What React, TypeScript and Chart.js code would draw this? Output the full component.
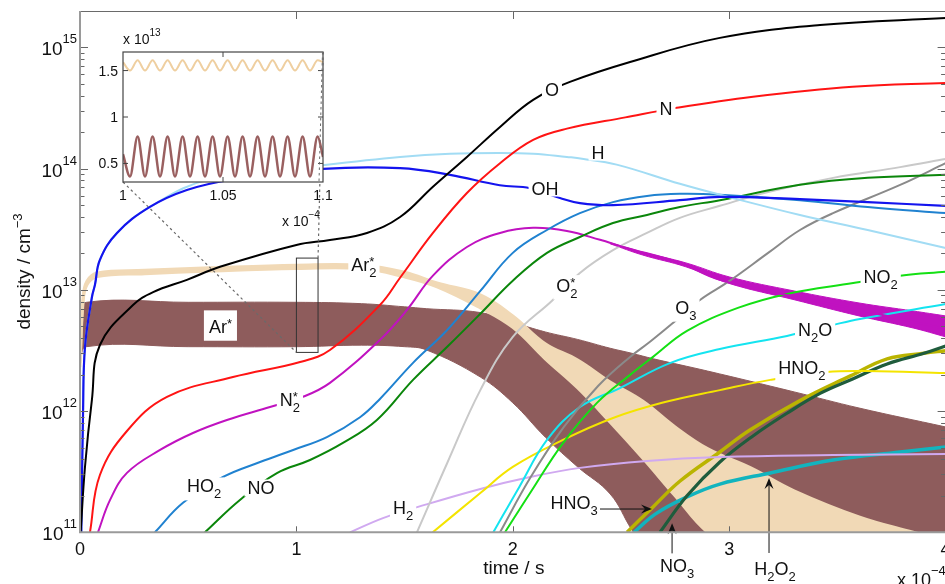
import React, { useEffect, useRef } from "react";
import { Chart, registerables } from "chart.js";

Chart.register(...registerables);

type P = [number, number];

// ---------- axes ----------
const TIME_TICKS = [0, 1, 2, 3, 4];
const DENSITY_DECADES = [1e11, 1e12, 1e13, 1e14, 1e15];
const TIME_RANGE = [0, 4];
const DENSITY_RANGE = [1e11, 2e15];

// ---------- species (time in 1e-4 s, density in cm^-3) ----------
const O_D: P[] = [[0.003, 1e11], [0.023, 3.46e11], [0.055, 1.24e12], [0.092, 3.51e12], [0.245, 7.5e12], [0.338, 9.6e12], [0.494, 1.21e13], [0.647, 1.55e13], [1.0, 2.35e13], [1.155, 2.58e13], [1.326, 2.95e13], [1.479, 3.99e13], [1.631, 7.1e13], [1.788, 1.25e14], [1.941, 2.21e14], [2.094, 3.7e14], [2.264, 5.2e14], [2.542, 7.6e14], [2.957, 1.2e15], [3.42, 1.53e15], [4.0, 1.75e15]];
const N_D: P[] = [[0.046, 1e11], [0.092, 2.97e11], [0.217, 6.85e11], [0.402, 1.31e12], [0.707, 1.91e12], [1.017, 2.54e12], [1.155, 3.19e12], [1.386, 7.5e12], [1.479, 1.26e13], [1.631, 2.95e13], [1.788, 6.3e13], [1.941, 1.11e14], [2.094, 1.73e14], [2.25, 2.14e14], [2.52, 2.65e14], [2.75, 3.16e14], [3.11, 3.92e14], [3.57, 4.74e14], [4.0, 5.1e14]];
const OH_D: P[] = [[0.006, 1e11], [0.014, 9.7e11], [0.023, 3.38e12], [0.055, 8.7e12], [0.069, 1.1e13], [0.092, 1.77e13], [0.171, 2.95e13], [0.323, 4.84e13], [0.494, 6.67e13], [0.693, 8.07e13], [1.123, 9.95e13], [1.479, 1.01e14], [1.71, 8.9e13], [1.94, 7.3e13], [2.08, 6.9e13], [2.218, 5.73e13], [2.31, 5.2e13], [2.463, 5.0e13], [2.772, 5.5e13], [2.957, 5.85e13], [3.327, 5.6e13], [3.64, 5.3e13], [4.0, 4.93e13]];
const H_D: P[] = [[0.006, 1e11], [0.014, 9.7e11], [0.023, 3.38e12], [0.055, 8.7e12], [0.069, 1.1e13], [0.092, 1.77e13], [0.171, 2.95e13], [0.323, 4.84e13], [0.6, 8.2e13], [1.123, 1.07e14], [1.479, 1.25e14], [1.71, 1.33e14], [1.94, 1.35e14], [2.094, 1.33e14], [2.25, 1.25e14], [2.32, 1.21e14], [2.48, 1.08e14], [2.772, 7.5e13], [2.957, 6.1e13], [3.327, 4.15e13], [3.64, 3.12e13], [4.0, 2.22e13]];
const HO2_D: P[] = [[0.346, 1e11], [0.476, 1.75e11], [0.661, 2.86e11], [0.832, 3.8e11], [0.985, 4.78e11], [1.141, 6.1e11], [1.294, 8.9e11], [1.386, 1.26e12], [1.539, 2.5e12], [1.697, 4.67e12], [1.85, 9.8e12], [2.0, 2.02e13], [2.158, 3.12e13], [2.31, 4.3e13], [2.463, 5.3e13], [2.62, 5.96e13], [2.772, 6.2e13], [2.957, 6.1e13], [3.327, 5.5e13], [3.64, 4.83e13], [4.0, 4.3e13]];
const NO_D: P[] = [[0.577, 1e11], [0.739, 1.85e11], [0.91, 3.08e11], [1.063, 3.95e11], [1.215, 5.46e11], [1.372, 8.45e11], [1.539, 1.81e12], [1.697, 3.39e12], [1.85, 6.35e12], [2.0, 1.19e13], [2.158, 2.02e13], [2.31, 2.73e13], [2.463, 3.56e13], [2.62, 4.15e13], [2.772, 4.83e13], [2.957, 5.5e13], [3.327, 7.36e13], [3.64, 8.4e13], [4.0, 8.9e13]];
const N2S_D: P[] = [[0.083, 1e11], [0.139, 1.85e11], [0.217, 3.09e11], [0.37, 4.78e11], [0.522, 6.6e11], [0.679, 8.45e11], [0.878, 1.08e12], [1.03, 1.31e12], [1.155, 1.71e12], [1.386, 3.87e12], [1.511, 6.84e12], [1.631, 1.31e13], [1.788, 2.26e13], [1.941, 2.95e13], [2.094, 3.25e13], [2.25, 3.06e13], [2.403, 2.59e13], [2.51, 2.26e13], [2.772, 1.67e13], [2.957, 1.21e13], [3.327, 8.6e12], [3.64, 6.6e12], [4.0, 4.76e12]];
const O2S_D: P[] = [[1.557, 1e11], [1.697, 3.73e11], [1.85, 1.49e12], [2.0, 4.09e12], [2.185, 8.26e12], [2.31, 1.38e13], [2.463, 2.13e13], [2.62, 2.95e13], [2.772, 3.93e13], [2.957, 4.94e13], [3.18, 6.43e13], [3.48, 8.4e13], [3.79, 1.03e14], [4.0, 1.2e14]];
const O3_D: P[] = [[1.941, 1e11], [2.08, 2.8e11], [2.236, 7.4e11], [2.394, 1.61e12], [2.542, 2.8e12], [2.634, 3.73e12], [2.74, 5.33e12], [2.865, 8.26e12], [3.0, 1.18e13], [3.18, 2.02e13], [3.327, 3.12e13], [3.48, 4.3e13], [3.79, 7.35e13], [4.0, 1.11e14]];
const NO2_D: P[] = [[1.964, 1e11], [2.08, 2.11e11], [2.232, 5.45e11], [2.389, 1.17e12], [2.542, 1.99e12], [2.648, 2.8e12], [2.805, 4.59e12], [3.04, 7.1e12], [3.267, 9.26e12], [3.573, 1.14e13], [3.79, 1.31e13], [4.0, 1.41e13]];
const N2O_D: P[] = [[1.91, 1e11], [2.03, 2.37e11], [2.158, 5.78e11], [2.31, 1.08e12], [2.495, 1.55e12], [2.726, 2.49e12], [2.957, 3.25e12], [3.267, 4.17e12], [3.48, 5.14e12], [3.604, 5.76e12], [4.0, 7.65e12]];
const HNO2_D: P[] = [[1.63, 1e11], [1.85, 2.11e11], [2.0, 3.46e11], [2.232, 5.78e11], [2.463, 8.77e11], [2.69, 1.17e12], [2.957, 1.49e12], [3.19, 1.81e12], [3.45, 2.1e12], [3.64, 2.14e12], [4.0, 2.06e12]];
const H2_D: P[] = [[1.248, 1e11], [1.4, 1.31e11], [1.562, 1.62e11], [1.85, 2.28e11], [2.08, 2.86e11], [2.31, 3.4e11], [2.62, 3.88e11], [2.957, 4.18e11], [3.48, 4.34e11], [4.0, 4.43e11]];
const HNO3_D: P[] = [[2.528, 1e11], [2.648, 1.62e11], [2.773, 2.65e11], [2.957, 4.6e11], [3.096, 6.98e11], [3.327, 1.22e12], [3.56, 1.95e12], [3.73, 2.7e12], [3.9, 3.0e12], [4.0, 3.15e12]];
const NO3_D: P[] = [[2.68, 1e11], [2.805, 2.0e11], [2.957, 3.8e11], [3.11, 6.24e11], [3.267, 9.6e11], [3.42, 1.4e12], [3.573, 1.85e12], [3.73, 2.45e12], [3.9, 3.0e12], [4.0, 3.45e12]];
const H2O2_D: P[] = [[2.56, 1e11], [2.66, 1.42e11], [2.805, 1.96e11], [2.957, 2.5e11], [3.19, 3.09e11], [3.48, 3.95e11], [3.79, 4.6e11], [4.0, 5.06e11]];

// ---------- oscillating species: envelopes ----------
const AR_T = [0, 0.03, 0.5, 1.0, 1.3, 1.5, 1.6, 1.85, 2.0, 2.15, 2.3, 2.45, 2.55, 2.65, 2.9, 3.3, 3.6, 4.0];
const AR_UP = [6e12, 7.9e12, 7.9e12, 7.9e12, 7.7e12, 7.25e12, 7.0e12, 6.5e12, 5.4e12, 4.5e12, 3.9e12, 3.3e12, 3.0e12, 2.7e12, 2.14e12, 1.44e12, 1.06e12, 7.4e11];
const AR_LO = [2.5e12, 3.4e12, 3.4e12, 3.4e12, 3.5e12, 3.4e12, 3.2e12, 1.91e12, 1.17e12, 6.1e11, 3.46e11, 2.07e11, 1.05e11, 6e10, 3e10, 2e10, 1.5e10, 1e10];

const AR2_T = [0, 0.014, 0.032, 0.08, 0.3, 0.6, 1.0, 1.3, 1.5, 1.65, 1.85, 2.0, 2.15, 2.3, 2.45, 2.6, 2.75, 2.9, 3.1, 3.3, 3.6, 3.85, 4.0];
const AR2_UP = [2.5e12, 8.6e12, 1.18e13, 1.38e13, 1.45e13, 1.52e13, 1.6e13, 1.6e13, 1.4e13, 1.14e13, 9.1e12, 6.1e12, 3.6e12, 2.64e12, 1.74e12, 1.21e12, 7.4e11, 4.9e11, 3.4e11, 2.2e11, 1.34e11, 1.0e11, 8.5e10];
const AR2_LO = [2.3e12, 7.8e12, 1.1e13, 1.29e13, 1.36e13, 1.43e13, 1.5e13, 1.5e13, 1.28e13, 1.06e13, 7.1e12, 4.9e12, 2.7e12, 1.55e12, 8.1e11, 4.1e11, 2.0e11, 1.0e11, 6e10, 4e10, 2.5e10, 2e10, 1.5e10];

const N2B_T = [2.45, 2.6, 2.8, 3.0, 3.3, 3.6, 3.85, 4.0];
const N2B_UP = [2.45e13, 2.05e13, 1.67e13, 1.28e13, 9.8e12, 7.8e12, 6.7e12, 6.1e12];
const N2B_LO = [2.4e13, 1.94e13, 1.55e13, 1.13e13, 8.3e12, 6.1e12, 4.85e12, 4.1e12];

// ---------- inset (time in 1e-4 s, density in 1e13 cm^-3) ----------
const INSET_T = [1.0, 1.0035, 1.0073, 1.011, 1.0148, 1.0185, 1.0223, 1.026, 1.0298, 1.0335, 1.0373, 1.041, 1.0448, 1.0485, 1.0523, 1.056, 1.0598, 1.0635, 1.0673, 1.071, 1.0748, 1.0785, 1.0823, 1.086, 1.0898, 1.0935, 1.0973, 1.1];
const INSET_AR2 = [1.59, 1.5, 1.61, 1.5, 1.61, 1.5, 1.61, 1.5, 1.61, 1.5, 1.61, 1.5, 1.61, 1.5, 1.61, 1.5, 1.61, 1.5, 1.61, 1.5, 1.61, 1.5, 1.61, 1.5, 1.61, 1.5, 1.61, 1.59];
const INSET_AR = [0.6, 0.36, 0.79, 0.36, 0.79, 0.36, 0.79, 0.36, 0.79, 0.36, 0.79, 0.36, 0.79, 0.36, 0.79, 0.36, 0.79, 0.36, 0.79, 0.36, 0.79, 0.36, 0.79, 0.36, 0.79, 0.36, 0.79, 0.57];
const INSET_X_TICKS = [1, 1.05, 1.1];
const INSET_Y_TICKS = [0.5, 1, 1.5];
const INSET_X_RANGE = [1.0, 1.1];
const INSET_Y_RANGE = [0.3, 1.7];

// zoom window drawn in main plot
const ZOOM_T = [1.0, 1.1];
const ZOOM_D = [3.05e12, 1.83e13];

// ---------- annotations ----------
const SPECIES_LABELS = [
  { text: "O", t: 2.181, n: 4.46e14 },
  { text: "N", t: 2.708, n: 3.16e14 },
  { text: "H", t: 2.394, n: 1.37e14 },
  { text: "OH", t: 2.149, n: 6.92e13 },
  { text: "O_2^*", t: 2.25, n: 1.05e13 },
  { text: "Ar_2^*", t: 1.312, n: 1.55e13 },
  { text: "Ar^*", t: 0.649, n: 5.08e12, pad: [5, 8] },
  { text: "N_2^*", t: 0.97, n: 1.19e12 },
  { text: "HO_2", t: 0.573, n: 2.28e11 },
  { text: "NO", t: 0.836, n: 2.32e11 },
  { text: "H_2", t: 1.493, n: 1.5e11 },
  { text: "O_3", t: 2.8, n: 6.8e12 },
  { text: "NO_2", t: 3.7, n: 1.21e13 },
  { text: "N_2O", t: 3.397, n: 4.49e12 },
  { text: "HNO_2", t: 3.336, n: 2.18e12 },
  { text: "HNO_3", t: 2.283, n: 1.65e11, noBox: true },
  { text: "NO_3", t: 2.759, n: 5.07e10, noBox: true },
  { text: "H_2O_2", t: 3.212, n: 4.79e10, noBox: true },
];
const ARROWS = [
  { t0: 2.403, n0: 1.556e11, t1: 2.643, n1: 1.556e11 },
  { t0: 2.736, n0: 6.7e10, t1: 2.736, n1: 1.19e11 },
  { t0: 3.184, n0: 6.75e10, t1: 3.184, n1: 2.8e11 },
];

// ---------- styles ----------
const LINE_STYLES = [
  { data: O_D, color: "#000000", width: 2 },
  { data: N_D, color: "#ff1414", width: 2 },
  { data: OH_D, color: "#1414ee", width: 2.2 },
  { data: H_D, color: "#a2dcf4", width: 2 },
  { data: HO2_D, color: "#2082d0", width: 2 },
  { data: NO_D, color: "#0b860b", width: 2 },
  { data: N2S_D, color: "#c012c0", width: 2 },
  { data: O2S_D, color: "#c9c9c9", width: 2 },
  { data: O3_D, color: "#8a8a8a", width: 2 },
  { data: NO2_D, color: "#14e014", width: 2 },
  { data: N2O_D, color: "#14e4f0", width: 2 },
  { data: HNO2_D, color: "#f4e400", width: 2 },
  { data: H2_D, color: "#d0a9f0", width: 2 },
  { data: NO3_D, color: "#1f5c3c", width: 3.2 },
  { data: HNO3_D, color: "#bab400", width: 3.5 },
  { data: H2O2_D, color: "#12b4be", width: 3.5 },
];
const AR_COLOR = "#8e5c5c";
const AR2_COLOR = "#f1d9b6";
const N2S_COLOR = "#c012c0";
const INSET_AR_COLOR = "#9a6060";
const INSET_AR2_COLOR = "#efcfa0";
const FAMILY = '"Liberation Sans", Arial, Helvetica, sans-serif';
const INSET_BOX = { left: 123, top: 52, right: 323, bottom: 182 };
const INSET_CANVAS = { left: 90, top: 20, width: 250, height: 210 };

// ---------- rich text helper ----------
const fontStr = (s: number) => `${s}px ${FAMILY}`;
type Seg = { t: string; k: "b" | "sub" | "sup" };
function parseRich(s: string): Seg[] {
  const out: Seg[] = [];
  let buf = "";
  let i = 0;
  const flush = () => {
    if (buf) { out.push({ t: buf, k: "b" }); buf = ""; }
  };
  while (i < s.length) {
    const c = s[i];
    if (c === "_" || c === "^") {
      flush();
      let t = "";
      if (s[i + 1] === "{") {
        const j = s.indexOf("}", i + 2);
        t = s.slice(i + 2, j);
        i = j + 1;
      } else {
        t = s[i + 1];
        i += 2;
      }
      out.push({ t, k: c === "_" ? "sub" : "sup" });
    } else {
      buf += c;
      i++;
    }
  }
  flush();
  return out;
}
function drawRich(ctx: any, str: string, x: number, y: number, opt: any) {
  const size = opt.size || 18;
  const small = opt.small || Math.round(size * 0.7);
  const subDrop = opt.subDrop ?? size * 0.33;
  const supRise = opt.supRise ?? size * 0.3;
  const segs = parseRich(str);
  const items: any[] = [];
  let cx = 0;
  let hasSub = false, hasSup = false;
  for (let i = 0; i < segs.length; i++) {
    const s = segs[i];
    if (s.k === "b") {
      ctx.font = fontStr(size);
      const w = ctx.measureText(s.t).width;
      items.push({ s, x: cx });
      cx += w;
    } else {
      ctx.font = fontStr(small);
      let w = ctx.measureText(s.t).width;
      items.push({ s, x: cx });
      if (s.k === "sub") hasSub = true; else hasSup = true;
      const n = segs[i + 1];
      if (n && n.k !== "b" && n.k !== s.k) {
        w = Math.max(w, ctx.measureText(n.t).width);
        items.push({ s: n, x: cx });
        if (n.k === "sub") hasSub = true; else hasSup = true;
        i++;
      }
      cx += w;
    }
  }
  const width = cx;
  const capTop = -0.72 * size;
  let top = capTop, bottom = 0;
  if (hasSup) top = Math.min(top, -supRise - 0.72 * small);
  if (hasSub) bottom = Math.max(bottom, subDrop);
  const baseline = opt.vcenter === "base" ? y - capTop / 2 : y - (top + bottom) / 2;
  const left = opt.align === "center" ? x - width / 2 : opt.align === "right" ? x - width : x;
  if (opt.box) {
    ctx.fillStyle = "#ffffff";
    ctx.fillRect(left - opt.box[0], baseline + top - opt.box[1], width + 2 * opt.box[0], bottom - top + 2 * opt.box[1]);
  }
  ctx.fillStyle = opt.color || "#111111";
  ctx.textAlign = "left";
  ctx.textBaseline = "alphabetic";
  for (const it of items) {
    const k = it.s.k;
    ctx.font = fontStr(k === "b" ? size : small);
    const by = k === "b" ? baseline : k === "sub" ? baseline + subDrop : baseline - supRise;
    ctx.fillText(it.s.t, left + it.x, by);
  }
}
function arrow(ctx: any, x0: number, y0: number, x1: number, y1: number) {
  const ang = Math.atan2(y1 - y0, x1 - x0);
  const L = 11, W = 4.5;
  ctx.beginPath();
  ctx.moveTo(x0, y0);
  ctx.lineTo(x1 - Math.cos(ang) * 6, y1 - Math.sin(ang) * 6);
  ctx.stroke();
  const bx = x1 - Math.cos(ang) * L, by = y1 - Math.sin(ang) * L;
  const nx = -Math.sin(ang), ny = Math.cos(ang);
  ctx.beginPath();
  ctx.moveTo(x1, y1);
  ctx.lineTo(bx + nx * W, by + ny * W);
  ctx.lineTo(x1 - Math.cos(ang) * 7, y1 - Math.sin(ang) * 7);
  ctx.lineTo(bx - nx * W, by - ny * W);
  ctx.closePath();
  ctx.fill();
}
const fmt = (v: number) => String(Number(v.toFixed(2)));
const zeroPad = (s: any) => {
  s.paddingLeft = 0; s.paddingRight = 0; s.paddingTop = 0; s.paddingBottom = 0;
};

// ---------- plugins ----------
const mainDecor = {
  id: "mainDecor",
  afterDatasetsDraw(chart: any) {
    const { ctx, scales } = chart;
    const x = scales.x, y = scales.y;
    ctx.save();
    // zoom window
    const rx0 = x.getPixelForValue(ZOOM_T[0]), rx1 = x.getPixelForValue(ZOOM_T[1]);
    const ry0 = y.getPixelForValue(ZOOM_D[0]), ry1 = y.getPixelForValue(ZOOM_D[1]);
    ctx.strokeStyle = "#333";
    ctx.lineWidth = 1;
    ctx.strokeRect(rx0, ry1, rx1 - rx0, ry0 - ry1);
    ctx.setLineDash([2.5, 3]);
    ctx.strokeStyle = "#6a6a6a";
    ctx.lineWidth = 1.2;
    ctx.beginPath();
    ctx.moveTo(INSET_BOX.left, INSET_BOX.bottom);
    ctx.lineTo(rx0, ry0);
    ctx.moveTo(INSET_BOX.right, INSET_BOX.top);
    ctx.lineTo(rx1, ry1);
    ctx.stroke();
    ctx.setLineDash([]);
    // species labels
    for (const L of SPECIES_LABELS as any[]) {
      drawRich(ctx, L.text, x.getPixelForValue(L.t), y.getPixelForValue(L.n), {
        size: 18, small: 13, subDrop: 6, supRise: 5, align: "center",
        box: L.noBox ? null : L.pad || [3, 2],
      });
    }
    // arrows
    ctx.strokeStyle = "#111";
    ctx.fillStyle = "#111";
    ctx.lineWidth = 1;
    for (const a of ARROWS) {
      arrow(ctx, x.getPixelForValue(a.t0), y.getPixelForValue(a.n0), x.getPixelForValue(a.t1), y.getPixelForValue(a.n1));
    }
    ctx.restore();
  },
  afterDraw(chart: any) {
    const { ctx, chartArea: a, scales } = chart;
    const x = scales.x, y = scales.y;
    ctx.save();
    // ticks
    ctx.strokeStyle = "#666";
    ctx.lineWidth = 1;
    ctx.beginPath();
    for (const d of DENSITY_DECADES) {
      for (let m = 1; m <= 9; m++) {
        const v = d * m;
        if (v >= DENSITY_RANGE[1]) continue;
        const py = Math.round(y.getPixelForValue(v)) + 0.5;
        const len = m === 1 ? 8 : 4.5;
        ctx.moveTo(a.left, py); ctx.lineTo(a.left + len, py);
        ctx.moveTo(a.right, py); ctx.lineTo(a.right - len, py);
      }
    }
    for (const t of TIME_TICKS) {
      if (t <= TIME_RANGE[0] || t >= TIME_RANGE[1]) continue;
      const px = Math.round(x.getPixelForValue(t)) + 0.5;
      ctx.moveTo(px, a.top); ctx.lineTo(px, a.top + 8);
      ctx.moveTo(px, a.bottom); ctx.lineTo(px, a.bottom - 6);
    }
    ctx.stroke();
    // frame
    ctx.strokeStyle = "#6a6a6a";
    ctx.lineWidth = 1;
    ctx.beginPath();
    ctx.moveTo(a.left, a.top + 0.5); ctx.lineTo(a.right, a.top + 0.5);
    ctx.stroke();
    ctx.strokeStyle = "#9a9a9a";
    ctx.lineWidth = 2;
    ctx.beginPath();
    ctx.moveTo(a.left, a.top); ctx.lineTo(a.left, a.bottom);
    ctx.lineTo(a.right, a.bottom);
    ctx.stroke();
    // tick labels
    for (const t of TIME_TICKS) {
      drawRich(ctx, String(t), x.getPixelForValue(t), a.bottom + 16.2, { size: 18, align: "center", vcenter: "base" });
    }
    for (const d of DENSITY_DECADES) {
      const e = Math.round(Math.log10(d));
      drawRich(ctx, `10^{${e}}`, a.left - 3, y.getPixelForValue(d) + 1, { size: 19, small: 13, supRise: 12, align: "right", vcenter: "base" });
    }
    drawRich(ctx, "x 10^{\u22124}", a.left + 817, a.bottom + 47, { size: 18, small: 13, supRise: 11, align: "left", vcenter: "base" });
    // axis titles
    drawRich(ctx, "time / s", x.getPixelForValue(2) + 1, a.bottom + 35, { size: 19, align: "center", vcenter: "base" });
    ctx.translate(23.4, 271.5);
    ctx.rotate(-Math.PI / 2);
    drawRich(ctx, "density / cm^{\u22123}", 0, 0, { size: 19, small: 13, supRise: 8, align: "center", vcenter: "base" });
    ctx.restore();
  },
};

const insetDecor = {
  id: "insetDecor",
  beforeDatasetsDraw(chart: any) {
    const { ctx, chartArea: a } = chart;
    ctx.save();
    ctx.fillStyle = "#ffffff";
    ctx.fillRect(a.left, a.top, a.right - a.left, a.bottom - a.top);
    ctx.restore();
  },
  afterDraw(chart: any) {
    const { ctx, chartArea: a, scales } = chart;
    const x = scales.x, y = scales.y;
    ctx.save();
    ctx.strokeStyle = "#444";
    ctx.lineWidth = 1.2;
    ctx.strokeRect(a.left, a.top, a.right - a.left, a.bottom - a.top);
    ctx.lineWidth = 1;
    ctx.beginPath();
    for (const v of INSET_X_TICKS) {
      const px = x.getPixelForValue(v);
      if (px > a.left + 1 && px < a.right - 1) {
        ctx.moveTo(px, a.top); ctx.lineTo(px, a.top + 5);
        ctx.moveTo(px, a.bottom); ctx.lineTo(px, a.bottom - 5);
      }
    }
    for (const v of INSET_Y_TICKS) {
      const py = y.getPixelForValue(v);
      ctx.moveTo(a.left, py); ctx.lineTo(a.left + 5, py);
      ctx.moveTo(a.right, py); ctx.lineTo(a.right - 5, py);
    }
    ctx.stroke();
    // dotted connector passing over the inset's right edge
    ctx.setLineDash([2.5, 3]);
    ctx.strokeStyle = "#6a6a6a";
    ctx.beginPath();
    ctx.moveTo(a.right - 0.5, a.top);
    ctx.lineTo(a.right - 4, a.bottom);
    ctx.stroke();
    ctx.setLineDash([]);
    for (const v of INSET_X_TICKS) {
      drawRich(ctx, fmt(v), x.getPixelForValue(v), a.bottom + 13, { size: 14, align: "center", vcenter: "base" });
    }
    for (const v of INSET_Y_TICKS) {
      drawRich(ctx, fmt(v), a.left - 5, y.getPixelForValue(v), { size: 14, align: "right", vcenter: "base" });
    }
    drawRich(ctx, "x 10^{13}", a.left, a.top - 13, { size: 14, small: 10, supRise: 8, align: "left", vcenter: "base" });
    drawRich(ctx, "x 10^{\u22124}", a.right - 41, a.bottom + 39, { size: 14, small: 10, supRise: 8, align: "left", vcenter: "base" });
    ctx.restore();
  },
};

// ---------- configs ----------
const pts = (d: P[]) => d.map(([x, y]) => ({ x, y }));
const zip = (t: number[], v: number[]) => t.map((x, i) => ({ x, y: v[i] }));

function mainConfig(): any {
  const common = { pointRadius: 0, tension: 0.4, capBezierPoints: false, clip: 0 };
  const lines = LINE_STYLES.map((s) => ({
    ...common, data: pts(s.data), borderColor: s.color, borderWidth: s.width, fill: false, order: 0,
  }));
  const bands = [
    { ...common, data: zip(N2B_T, N2B_LO), borderColor: N2S_COLOR, borderWidth: 1, fill: false, order: 1 },
    { ...common, data: zip(N2B_T, N2B_UP), borderColor: N2S_COLOR, borderWidth: 1, fill: "-1", backgroundColor: N2S_COLOR, order: 1 },
    { ...common, data: zip(AR2_T, AR2_LO), borderColor: AR2_COLOR, borderWidth: 3, fill: false, order: 2 },
    { ...common, data: zip(AR2_T, AR2_UP), borderColor: AR2_COLOR, borderWidth: 3, fill: "-1", backgroundColor: AR2_COLOR, order: 2 },
    { ...common, data: zip(AR_T, AR_LO), borderColor: AR_COLOR, borderWidth: 1, fill: false, order: 3 },
    { ...common, data: zip(AR_T, AR_UP), borderColor: AR_COLOR, borderWidth: 1, fill: "-1", backgroundColor: AR_COLOR, order: 3 },
  ];
  return {
    type: "line",
    data: { datasets: [...lines, ...bands] },
    options: {
      responsive: false,
      animation: false,
      events: [],
      layout: { padding: { left: 0, right: 14.4, top: 11, bottom: 0 }, autoPadding: false },
      plugins: { legend: { display: false }, tooltip: { enabled: false }, title: { display: false } },
      scales: {
        x: {
          type: "linear", min: TIME_RANGE[0], max: TIME_RANGE[1],
          grid: { display: false, drawTicks: false }, border: { display: false }, ticks: { display: false },
          afterFit: (s: any) => { s.height = 51.7; zeroPad(s); },
        },
        y: {
          type: "logarithmic", min: DENSITY_RANGE[0], max: DENSITY_RANGE[1],
          grid: { display: false, drawTicks: false }, border: { display: false }, ticks: { display: false },
          afterFit: (s: any) => { s.width = 80; zeroPad(s); },
        },
      },
    },
    plugins: [mainDecor],
  };
}

function insetConfig(): any {
  const common = { pointRadius: 0, cubicInterpolationMode: "monotone", capBezierPoints: false, fill: false };
  return {
    type: "line",
    data: {
      datasets: [
        { ...common, data: zip(INSET_T, INSET_AR), borderColor: INSET_AR_COLOR, borderWidth: 2.5 },
        { ...common, data: zip(INSET_T, INSET_AR2), borderColor: INSET_AR2_COLOR, borderWidth: 2 },
      ],
    },
    options: {
      responsive: false,
      animation: false,
      events: [],
      layout: {
        padding: {
          left: 0,
          right: INSET_CANVAS.width - (INSET_BOX.right - INSET_CANVAS.left),
          top: INSET_BOX.top - INSET_CANVAS.top,
          bottom: 0,
        },
        autoPadding: false,
      },
      plugins: { legend: { display: false }, tooltip: { enabled: false } },
      scales: {
        x: {
          type: "linear", min: INSET_X_RANGE[0], max: INSET_X_RANGE[1],
          grid: { display: false, drawTicks: false }, border: { display: false }, ticks: { display: false },
          afterFit: (s: any) => { s.height = INSET_CANVAS.top + INSET_CANVAS.height - INSET_BOX.bottom; zeroPad(s); },
        },
        y: {
          type: "linear", min: INSET_Y_RANGE[0], max: INSET_Y_RANGE[1],
          grid: { display: false, drawTicks: false }, border: { display: false }, ticks: { display: false },
          afterFit: (s: any) => { s.width = INSET_BOX.left - INSET_CANVAS.left; zeroPad(s); },
        },
      },
    },
    plugins: [insetDecor],
  };
}

export default function App() {
  const mainRef = useRef<HTMLCanvasElement>(null);
  const insetRef = useRef<HTMLCanvasElement>(null);
  useEffect(() => {
    const main = new Chart(mainRef.current as HTMLCanvasElement, mainConfig());
    const inset = new Chart(insetRef.current as HTMLCanvasElement, insetConfig());
    return () => {
      main.destroy();
      inset.destroy();
    };
  }, []);
  return (
    <div style={{ position: "absolute", left: 0, top: 0, width: 945, height: 584, overflow: "hidden", background: "#ffffff" }}>
      <canvas ref={mainRef} width={960} height={584} style={{ position: "absolute", left: 0, top: 0, width: 960, height: 584 }} />
      <canvas
        ref={insetRef}
        width={INSET_CANVAS.width}
        height={INSET_CANVAS.height}
        style={{ position: "absolute", left: INSET_CANVAS.left, top: INSET_CANVAS.top, width: INSET_CANVAS.width, height: INSET_CANVAS.height }}
      />
    </div>
  );
}
